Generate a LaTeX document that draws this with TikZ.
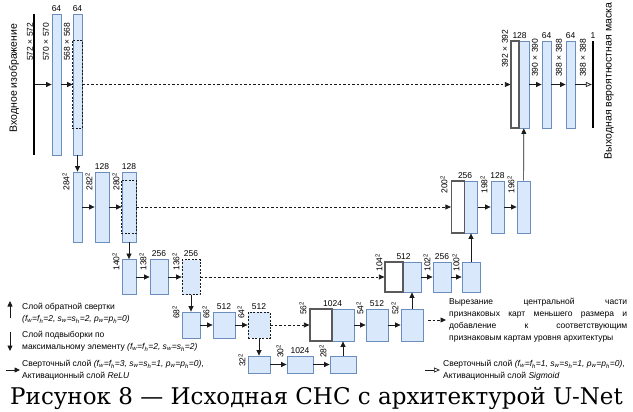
\documentclass[tikz,border=0pt]{standalone}
\usepackage{fontspec}
\setmainfont{Liberation Sans}
\newfontfamily\capfont{DejaVu Serif}
\usetikzlibrary{positioning, calc, arrows.meta}
\definecolor{MapFill}{HTML}{DAE8FC}
\definecolor{MapLine}{HTML}{6C8EBF}
\definecolor{Dark}{HTML}{1A1A1A}
\definecolor{CatLine}{HTML}{5A5A5A}
\newcommand{\ix}[2]{#1\textsubscript{#2}}
\newcommand{\sq}[1]{#1\textsuperscript{2}}
\tikzset{
    fmap/.style={rectangle, draw=MapLine, fill=MapFill, line width=0.8pt, inner sep=0pt},
    cropmap/.style={fmap, draw=Dark, dash pattern=on 2pt off 1.5pt},
    catmap/.style={rectangle, draw=CatLine, fill=white, line width=1.2pt, inner sep=0pt},
    bar/.style={rectangle, fill=black, minimum width=2, inner sep=0pt},
    arr/.style={-{Triangle[length=5.5pt, width=5pt]}, line width=0.7pt, color=Dark},
    skip/.style={arr, dash pattern=on 2.5pt off 2pt},
    sigarr/.style={-{Triangle[open, length=6pt, width=5pt]}, line width=0.7pt, color=Dark},
    dim/.style={rotate=90, anchor=east, font=\fontsize{8.5}{9}\selectfont, inner sep=0.5pt},
    num/.style={font=\fontsize{8.5}{9}\selectfont, inner sep=1pt},
    legtxt/.style={anchor=west, align=left, font=\fontsize{8.5}{12}\selectfont, inner sep=0pt},
}
\begin{document}
\begin{tikzpicture}[x=1pt, y=-1pt]
    \useasboundingbox (0,0) rectangle (633,412);

    % Уровень 1
    \node[bar, minimum height=141] (inp) at (34,84.5) {};
    \node[fmap, minimum width=9, minimum height=141] (a1) at (56.5,84.5) {};
    \node[fmap, minimum width=9, minimum height=141] (a2) at (77.5,84.5) {};
    \draw[Dark, dash pattern=on 2pt off 1.5pt, line width=0.7pt] ($(a2.north west)+(0,27)$) rectangle ($(a2.south east)+(0,-27)$);
    \node[rotate=90, font=\fontsize{10.5}{12}\selectfont] (tin) at (14,78) {Входное изображение};
    \node[num, above=1pt of a1] (c64a) {64};
    \node[num, above=1pt of a2] (c64b) {64};
    \node[dim] (s572) at (30,22) {572 × 572};
    \node[dim] (s570) at (46,22) {570 × 570};
    \node[dim] (s568) at (67,22) {568 × 568};
    \draw[arr] (inp) -- (a1);
    \draw[arr] (a1) -- (a2);

    % Уровень 2
    \node[fmap, minimum width=9, minimum height=70] (b1) at (77.5,207) {};
    \node[fmap, minimum width=14, minimum height=70] (b2) at (102,207) {};
    \node[fmap, minimum width=14, minimum height=70] (b3) at (129,207) {};
    \draw[Dark, dash pattern=on 2pt off 1.5pt, line width=0.7pt] ($(b3.north west)+(0,9)$) rectangle ($(b3.south east)+(0,-9)$);
    \node[num, above=1pt of b2] (c128a) {128};
    \node[num, above=1pt of b3] (c128b) {128};
    \node[dim] (s284) at (66,172) {\sq{284}};
    \node[dim] (s282) at (89,172) {\sq{282}};
    \node[dim] (s280) at (116,172) {\sq{280}};
    \draw[arr] (a2) -- (b1);
    \draw[arr] (b1) -- (b2);
    \draw[arr] (b2) -- (b3);

    % Уровень 3
    \node[fmap, minimum width=14, minimum height=35] (c1) at (129,277) {};
    \node[fmap, minimum width=18, minimum height=35] (c2) at (159,277) {};
    \node[cropmap, minimum width=18, minimum height=35] (c3) at (191,277) {};
    \node[num, above=1pt of c2] (c256a) {256};
    \node[num, above=1pt of c3] (c256b) {256};
    \node[dim] (s140) at (116,252) {\sq{140}};
    \node[dim] (s138) at (143,252) {\sq{138}};
    \node[dim] (s136) at (176,252) {\sq{136}};
    \draw[arr] (b3) -- (c1);
    \draw[arr] (c1) -- (c2);
    \draw[arr] (c2) -- (c3);

    % Уровень 4
    \node[fmap, minimum width=18, minimum height=26] (d1) at (191,325) {};
    \node[fmap, minimum width=22, minimum height=26] (d2) at (224,325) {};
    \node[cropmap, minimum width=22, minimum height=26] (d3) at (259,325) {};
    \node[num, above=1pt of d2] (c512a) {512};
    \node[num, above=1pt of d3] (c512b) {512};
    \node[dim] (s68) at (176,305) {\sq{68}};
    \node[dim] (s66) at (206,305) {\sq{66}};
    \node[dim] (s64) at (241,305) {\sq{64}};
    \draw[arr] (c3) -- (d1);
    \draw[arr] (d1) -- (d2);
    \draw[arr] (d2) -- (d3);

    % Дно
    \node[fmap, minimum width=22, minimum height=17] (e1) at (259,364.5) {};
    \node[fmap, minimum width=26, minimum height=17] (e2) at (300,364.5) {};
    \node[fmap, minimum width=26, minimum height=17] (e3) at (343,364.5) {};
    \node[num, above=1pt of e2] (c1024a) {1024};
    \node[dim] (s32) at (242,353) {\sq{32}};
    \node[dim] (s30) at (280,344) {\sq{30}};
    \node[dim] (s28) at (323,344) {\sq{28}};
    \draw[arr] (d3) -- (e1);
    \draw[arr] (e1) -- (e2);
    \draw[arr] (e2) -- (e3);

    % Уровень 4, расширение
    \node[fmap, minimum width=22, minimum height=32] (f1) at (343,325) {};
    \node[catmap, minimum width=22, minimum height=32] (w4) at (321,325) {};
    \node[fmap, minimum width=22, minimum height=32] (f2) at (377,325) {};
    \node[fmap, minimum width=22, minimum height=32] (f3) at (412,325) {};
    \node[num, above=1pt of w4.north east] (c1024b) {1024};
    \node[num, above=1pt of f2] (c512c) {512};
    \node[dim] (s56) at (303,301) {\sq{56}};
    \node[dim] (s54) at (360,301) {\sq{54}};
    \node[dim] (s52) at (395,301) {\sq{52}};
    \draw[arr] (e3) -- (f1);
    \draw[arr] (f1) -- (f2);
    \draw[arr] (f2) -- (f3);
    \draw[skip] (d3) -- (w4);

    % Уровень 3, расширение
    \node[fmap, minimum width=18, minimum height=30] (g1) at (412,277) {};
    \node[catmap, minimum width=18, minimum height=30] (w3) at (394,277) {};
    \node[fmap, minimum width=18, minimum height=30] (g2) at (442,277) {};
    \node[fmap, minimum width=18, minimum height=30] (g3) at (471,277) {};
    \node[num, above=1pt of w3.north east] (c512d) {512};
    \node[num, above=1pt of g2] (c256c) {256};
    \node[dim] (s104) at (379,253) {\sq{104}};
    \node[dim] (s102) at (427,253) {\sq{102}};
    \node[dim] (s100) at (456,253) {\sq{100}};
    \draw[arr] (f3) -- (g1);
    \draw[arr] (g1) -- (g2);
    \draw[arr] (g2) -- (g3);
    \draw[skip] (c3) -- (w3);

    % Уровень 2, расширение
    \node[fmap, minimum width=13, minimum height=52] (h1) at (471,207) {};
    \node[catmap, minimum width=13, minimum height=52] (w2) at (458,207) {};
    \node[fmap, minimum width=13, minimum height=52] (h2) at (497.5,207) {};
    \node[fmap, minimum width=13, minimum height=52] (h3) at (523.5,207) {};
    \node[num, above=1pt of w2.north east] (c256d) {256};
    \node[num, above=1pt of h2] (c128c) {128};
    \node[dim] (s200) at (444,175) {\sq{200}};
    \node[dim] (s198) at (484,175) {\sq{198}};
    \node[dim] (s196) at (511,175) {\sq{196}};
    \draw[arr] (g3) -- (h1);
    \draw[arr] (h1) -- (h2);
    \draw[arr] (h2) -- (h3);
    \draw[skip] (b3) -- (w2);

    % Уровень 1, расширение
    \node[fmap, minimum width=10, minimum height=87] (i1) at (524,84.5) {};
    \node[catmap, minimum width=8, minimum height=87] (w1) at (515,84.5) {};
    \node[fmap, minimum width=9, minimum height=87] (i2) at (546.5,84.5) {};
    \node[fmap, minimum width=9, minimum height=87] (i3) at (570.5,84.5) {};
    \node[bar, minimum height=87] (outp) at (593,84.5) {};
    \node[num, above=1pt of w1.north east] (c128d) {128};
    \node[num, above=1pt of i2] (c64c) {64};
    \node[num, above=1pt of i3] (c64d) {64};
    \node[num, above=1pt of outp] (c1) {1};
    \node[rotate=90, font=\fontsize{10.5}{12}\selectfont] (tout) at (609,81) {Выходная вероятностная маска};
    \node[dim] (s392) at (505,29) {392 × 392};
    \node[dim] (s390) at (535,38) {390 × 390};
    \node[dim] (s388a) at (559,38) {388 × 388};
    \node[dim] (s388b) at (583,38) {388 × 388};
    \draw[arr] (h3) -- (i1);
    \draw[arr] (i1) -- (i2);
    \draw[arr] (i2) -- (i3);
    \draw[sigarr] (i3) -- (outp);
    \draw[skip] (a2) -- (w1);

    % Легенда
    \coordinate (up1) at (10,318);
    \coordinate (up2) at (10,301);
    \draw[arr] (up1) -- (up2);
    \node[legtxt] (lg1) at (22,313.5) {Слой обратной свертки\\{\itshape(\ix{f}{w}=\ix{f}{h}=2, \ix{s}{w}=\ix{s}{h}=2, \ix{p}{w}=\ix{p}{h}=0)}};
    \coordinate (dn1) at (10,332);
    \coordinate (dn2) at (10,351);
    \draw[arr] (dn1) -- (dn2);
    \node[legtxt] (lg2) at (22,341.5) {Слой подвыборки по\\максимальному элементу {\itshape(\ix{f}{w}=\ix{f}{h}=2, \ix{s}{w}=\ix{s}{h}=2)}};
    \coordinate (cv1) at (6,370);
    \coordinate (cv2) at (20,370);
    \draw[arr] (cv1) -- (cv2);
    \node[legtxt] (lg3) at (22,370.5) {Сверточный слой {\itshape(\ix{f}{w}=\ix{f}{h}=3, \ix{s}{w}=\ix{s}{h}=1, \ix{p}{w}=\ix{p}{h}=0)},\\Активационный слой \textit{ReLU}};
    \coordinate (sk1) at (428,320);
    \coordinate (sk2) at (446,320);
    \draw[skip] (sk1) -- (sk2);
    \node[legtxt, text width=178pt, align=justify] (lg4) at (449,320) {Вырезание центральной части\linebreak признаковых карт меньшего размера и\linebreak добавление к соответствующим\linebreak признаковым картам уровня архитектуры};
    \coordinate (sg1) at (425,370);
    \coordinate (sg2) at (440,370);
    \draw[sigarr] (sg1) -- (sg2);
    \node[legtxt] (lg5) at (443,370.5) {Сверточный слой {\itshape(\ix{f}{w}=\ix{f}{h}=1, \ix{s}{w}=\ix{s}{h}=1, \ix{p}{w}=\ix{p}{h}=0)},\\Активационный слой \textit{Sigmoid}};

    % Подпись
    \node[font=\capfont\fontsize{23}{26}\selectfont, inner sep=0pt] (cap) at (316.5,398) {Рисунок 8 — Исходная СНС с архитектурой U-Net};
\end{tikzpicture}
\end{document}
